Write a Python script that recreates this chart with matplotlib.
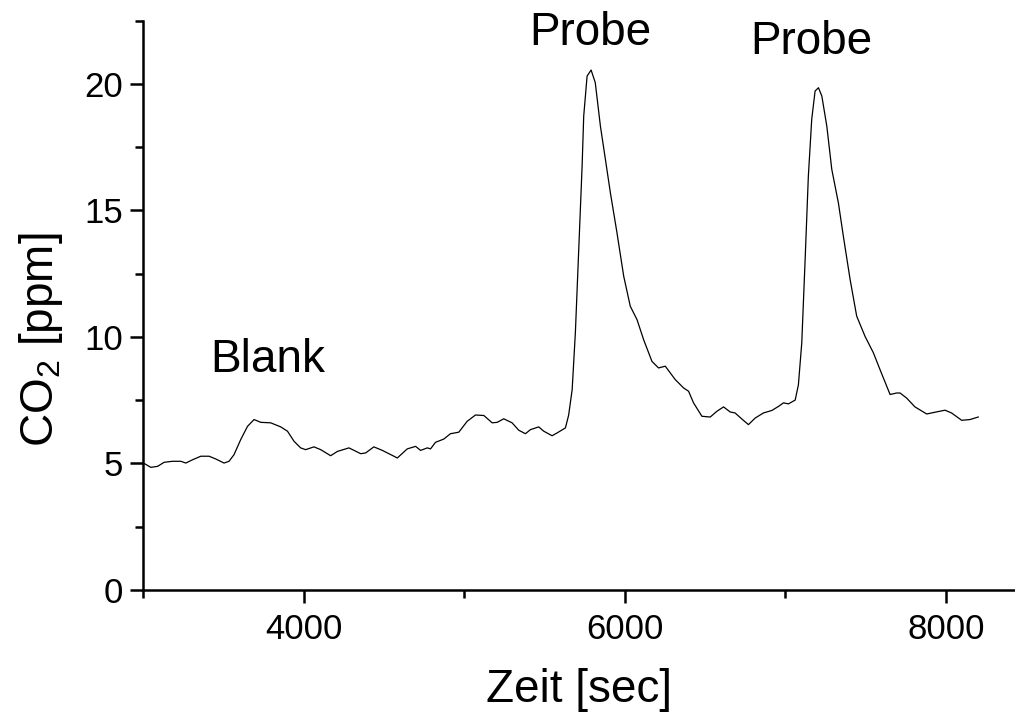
import matplotlib
matplotlib.use("Agg")
import matplotlib.pyplot as plt
from matplotlib.ticker import MultipleLocator

plt.rcParams['font.family'] = ['Liberation Sans', 'DejaVu Sans']
plt.rcParams['mathtext.fontset'] = 'custom'
plt.rcParams['mathtext.rm'] = 'Liberation Sans'
plt.rcParams['mathtext.it'] = 'Liberation Sans:italic'

# CO2 trace
zeit = [3005, 3048, 3090, 3131, 3183, 3235, 3266, 3308, 3359, 3411, 3453, 3504, 3535, 3566,
        3608, 3650, 3691, 3733, 3795, 3857, 3899, 3940, 3981, 4012, 4064, 4106, 4168, 4210,
        4282, 4355, 4386, 4437, 4490, 4562, 4583, 4645, 4697, 4728, 4770, 4790, 4821, 4873,
        4914, 4966, 5018, 5070, 5122, 5174, 5205, 5246, 5298, 5339, 5381, 5412, 5464, 5495,
        5547, 5578, 5630, 5650, 5672, 5692, 5713, 5734, 5744, 5765, 5790, 5816, 5848, 5879,
        5910, 5951, 5993, 6034, 6076, 6117, 6169, 6210, 6252, 6314, 6366, 6397, 6428, 6480,
        6532, 6574, 6615, 6656, 6687, 6729, 6770, 6812, 6863, 6916, 6957, 6988, 7019, 7061,
        7081, 7102, 7123, 7143, 7164, 7185, 7206, 7227, 7258, 7289, 7330, 7361, 7403, 7444,
        7496, 7548, 7589, 7652, 7693, 7714, 7755, 7807, 7880, 7932, 7994, 8035, 8098, 8149,
        8201]
co2 = [5.00, 4.84, 4.88, 5.04, 5.08, 5.08, 5.01, 5.14, 5.28, 5.28, 5.17, 5.01, 5.08, 5.34,
       5.94, 6.46, 6.73, 6.62, 6.60, 6.44, 6.27, 5.87, 5.61, 5.54, 5.65, 5.54, 5.30, 5.47,
       5.61, 5.38, 5.41, 5.65, 5.51, 5.28, 5.21, 5.57, 5.67, 5.51, 5.61, 5.57, 5.83, 5.96,
       6.17, 6.23, 6.66, 6.91, 6.89, 6.60, 6.62, 6.76, 6.60, 6.31, 6.17, 6.33, 6.44, 6.27,
       6.09, 6.20, 6.40, 6.90, 7.91, 10.16, 13.45, 16.75, 18.73, 20.31, 20.55, 20.05, 18.33, 17.02,
       15.70, 14.12, 12.40, 11.21, 10.68, 9.89, 9.03, 8.77, 8.84, 8.31, 7.98, 7.85, 7.39, 6.86,
       6.83, 7.06, 7.23, 7.03, 6.99, 6.75, 6.53, 6.79, 6.99, 7.09, 7.25, 7.39, 7.35, 7.50,
       8.10, 9.76, 13.06, 16.35, 18.60, 19.72, 19.85, 19.52, 18.33, 16.62, 15.30, 13.98, 12.27, 10.82,
       10.02, 9.37, 8.71, 7.72, 7.78, 7.78, 7.58, 7.23, 6.95, 7.02, 7.10, 6.99, 6.70, 6.73,
       6.83]

labels = ["Blank", "Probe", "Probe"]
label_x = [3778, 5785, 7164]
label_y = [9.1, 22.0, 21.65]

fig = plt.figure(figsize=(10.15, 7.14), dpi=100)
ax = fig.add_axes([0.141, 0.174, 0.859, 0.797])

ax.plot(zeit, co2, color="black", lw=0.9)

for t, x, y in zip(labels, label_x, label_y):
    ax.text(x, y, t, ha="center", va="center", fontsize=33, clip_on=False)

ax.set_xlim(3000, 8430)
ax.set_ylim(0, 22.5)
ax.xaxis.set_major_locator(MultipleLocator(2000))
ax.xaxis.set_minor_locator(MultipleLocator(1000))
ax.yaxis.set_major_locator(MultipleLocator(5))
ax.yaxis.set_minor_locator(MultipleLocator(2.5))

for s in ["top", "right"]:
    ax.spines[s].set_visible(False)
for s in ["left", "bottom"]:
    ax.spines[s].set_linewidth(1.8)

ax.tick_params(which="major", direction="out", length=9.5, width=1.8, labelsize=25, pad=5)
ax.tick_params(which="minor", direction="out", length=5.5, width=1.8)
ax.tick_params(axis="x", which="major", pad=7)

ax.set_xlabel("Zeit [sec]", fontsize=33, labelpad=16)
ax.set_ylabel("CO$_2$ [ppm]", fontsize=33)
ax.yaxis.set_label_coords(-0.09, 0.44)

fig.savefig("out.png", dpi=100)
